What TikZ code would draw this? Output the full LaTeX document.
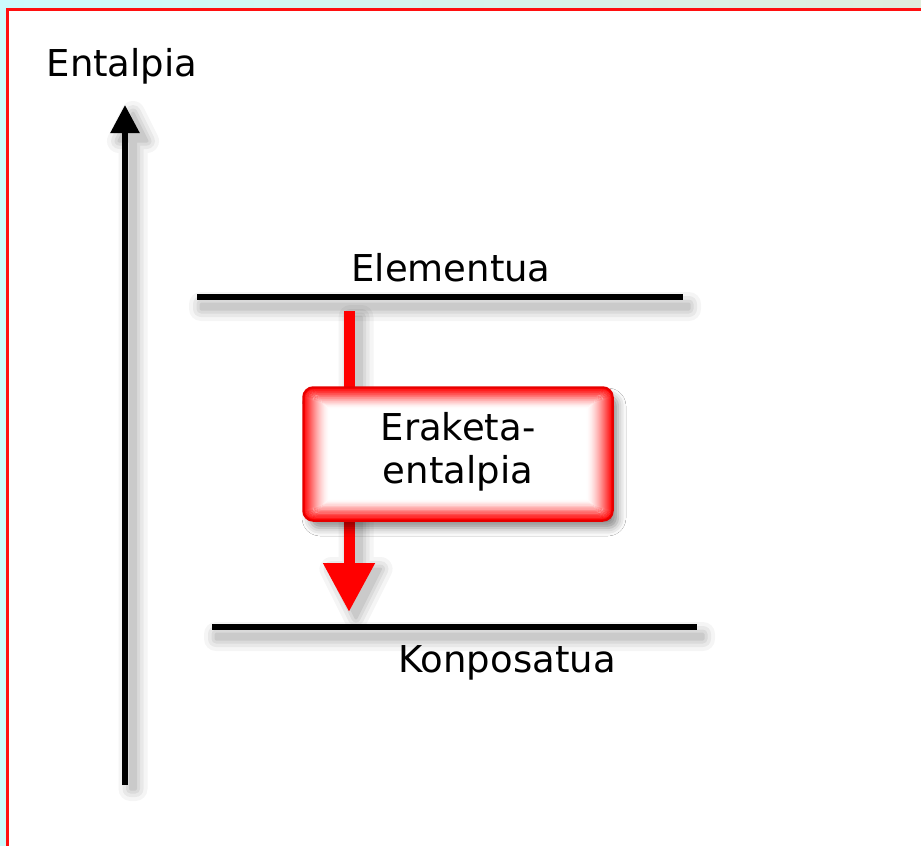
\documentclass[tikz,border=0pt]{standalone}
\usepackage{fontspec}
\setmainfont{DejaVu Sans}
\usetikzlibrary{arrows.meta,shadows.blur,calc}
\definecolor{bgcyan}{HTML}{CCFAFC}
\definecolor{bggreen}{HTML}{E0EEDC}
\definecolor{frame}{HTML}{FF1010}
\newcommand\softshade[1]{%
  \foreach \w/\o in {24/0.04,16/0.05,9/0.06,3/0.07}{%
    \begin{scope}[transparency group, opacity=\o]
      \filldraw[black, line width=\w pt, line join=round, line cap=round] #1;
    \end{scope}}}
\tikzset{
  lbl/.style={font=\fontsize{37}{43}\selectfont, inner sep=0pt, text=black},
  level/.style={line width=5.5pt, black},
  axis/.style={line width=5.5pt, black, -{Triangle[width=28pt,length=28pt]}},
  redarrow/.style={line width=11pt, red, -{Triangle[width=49pt,length=49pt]}},
  glowbox/.style={draw=red, line width=1.5pt, fill=white, rounded corners=10pt, minimum width=308pt, minimum height=132pt, inner sep=0pt, blur shadow={shadow xshift=6pt, shadow yshift=-8pt, shadow blur radius=8pt, shadow opacity=45}}
}
\begin{document}
\begin{tikzpicture}[x=1pt,y=-1pt]
\useasboundingbox (0,0) rectangle (921,846);
\fill[bgcyan] (0,0) rectangle (921,846);
\shade[left color=bgcyan, right color=bggreen] (0,0) rectangle (921,9);
\fill[white] (7.5,9) rectangle (925,850);
\draw[frame, line width=3pt] (7.5,860) -- (7.5,9) -- (930,9);

% coordinates
\coordinate (axb) at (125,785);
\coordinate (axt) at (125,105);
\coordinate (e1) at (197,297);
\coordinate (e2) at (683,297);
\coordinate (k1) at (212,627);
\coordinate (k2) at (697,627);
\coordinate (ra) at (349,311);
\coordinate (rb) at (349,612);

% soft shadows
\softshade{($(axb)+(5.5,4)$) rectangle ($(axt)+(10.5,34)$)
  ($(axt)+(8,8)$) -- ($(axt)+(-6,36)$) -- ($(axt)+(22,36)$) -- cycle}
\softshade{($(e1)+(4,7)$) rectangle ($(e2)+(6,12)$)}
\softshade{($(k1)+(4,7)$) rectangle ($(k2)+(6,12)$)}
\softshade{($(ra)+(1.5,6)$) rectangle ($(rb)+(12.5,-43)$)
  ($(rb)+(-17.5,-43)$) -- ($(rb)+(31.5,-43)$) -- ($(rb)+(7,6)$) -- cycle}

% axis
\draw[axis] (axb) -- (axt);
\node[lbl] (ent) at (122,66) {Entalpia};

% levels
\draw[level] (e1) -- (e2);
\draw[level] (k1) -- (k2);
\node[lbl] (elem) at (451,268) {Elementua};
\node[lbl] (konp) at (507,663) {Konposatua};

% red arrow
\draw[redarrow] (ra) -- (rb);

% box
\node[glowbox] (box) at (458,454) {};
\foreach \i in {0,...,25}{
  \pgfmathsetmacro{\op}{0.9*(1-\i/26)^1.8}
  \draw[red, line width=1.3pt, opacity=\op, rounded corners={max(10-\i*0.5,1)*1pt}]
    ([xshift=\i*1pt+1pt, yshift=\i*0.8pt+1pt]box.south west) rectangle ([xshift=-\i*1pt-1pt, yshift=-\i*0.8pt-1pt]box.north east);
}
\draw[red!90!black, line width=2pt, rounded corners=10pt] (box.south west) rectangle (box.north east);
\node[lbl, align=center] (boxtxt) at (458,452) {Eraketa-\\entalpia};
\end{tikzpicture}
\end{document}
